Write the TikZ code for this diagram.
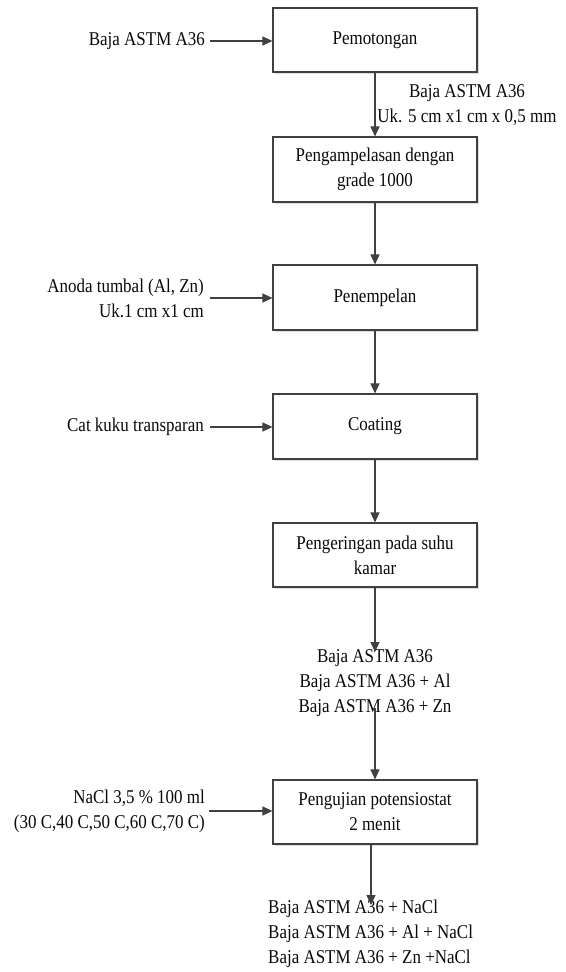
\documentclass[tikz,border=0pt]{standalone}
\usepackage{fontspec}
\setmainfont{Liberation Serif}[FakeStretch=0.87]
\usetikzlibrary{arrows.meta,shadows}
\definecolor{linec}{HTML}{404040}
\definecolor{txt}{HTML}{0A0A0A}
\begin{document}
\begin{tikzpicture}[x=1pt,y=-1pt,
  every node/.style={font=\fontsize{19.5}{25}\selectfont, text=txt},
  stepbox/.style={draw=linec, line width=1.1pt, fill=white, minimum width=204pt,
    align=center, inner sep=0pt,
    drop shadow={shadow xshift=1.6pt, shadow yshift=-1.6pt, fill=black!13, opacity=1}},
  lbl/.style={inner sep=0pt},
  arr/.style={draw=linec, line width=1.2pt, -{Triangle[length=10pt,width=9pt]}}]
\useasboundingbox (0,0) rectangle (565,972);
\fill[white] (0,0) rectangle (565,972);
% boxes
\node[stepbox, minimum height=64pt] (b1) at (375,40) {Pemotongan};
\node[stepbox, minimum height=65pt] (b2) at (375,169.5) {Pengampelasan dengan\\grade 1000};
\node[stepbox, minimum height=65pt] (b3) at (375,297.5) {Penempelan};
\node[stepbox, minimum height=65pt] (b4) at (375,426.5) {Coating};
\node[stepbox, minimum height=64pt] (b5) at (375,555) {Pengeringan pada suhu\\kamar};
\node[stepbox, minimum height=64pt] (b6) at (375,812) {Pengujian potensiostat\\2 menit};
% inputs
\node[lbl, anchor=east] (i1) at (205,41) {Baja ASTM A36};
\node[lbl, anchor=east, align=right] (i3) at (204,298) {Anoda tumbal (Al, Zn)\\Uk.1 cm x1 cm};
\node[lbl, anchor=east] (i4) at (204,427) {Cat kuku transparan};
\node[lbl, anchor=east, align=right] (i6) at (205,811) {NaCl 3,5 \%\ 100 ml\\(30 C,40 C,50 C,60 C,70 C)};
% labels
\node[lbl, align=center] (l1) at (467,105) {Baja ASTM A36\\Uk. 5 cm x1 cm x 0,5 mm};
\node[lbl, align=center] (m1) at (375,683) {Baja ASTM A36\\Baja ASTM A36 + Al\\Baja ASTM A36 + Zn};
\node[lbl, align=left, anchor=west] (o6) at (268,934) {Baja ASTM A36 + NaCl\\Baja ASTM A36 + Al + NaCl\\Baja ASTM A36 + Zn +NaCl};
\coordinate (t6) at (371,905);
% connectors
\draw[arr, shorten <=5pt] (i1.east) -- (b1.west |- i1.east);
\draw[arr, shorten <=6pt] (i3.east) -- (b3.west |- i3.east);
\draw[arr, shorten <=6pt] (i4.east) -- (b4.west |- i4.east);
\draw[arr, shorten <=4pt] (i6.east) -- (b6.west |- i6.east);
\draw[arr] (b1.south) -- (b2.north);
\draw[arr] (b2.south) -- (b3.north);
\draw[arr] (b3.south) -- (b4.north);
\draw[arr] (b4.south) -- (b5.north);
\draw[arr] (b5.south) -- (375,652);
\draw[arr] (375,708) -- (b6.north);
\draw[arr] (b6.south -| t6) -- (t6);
\end{tikzpicture}
\end{document}
